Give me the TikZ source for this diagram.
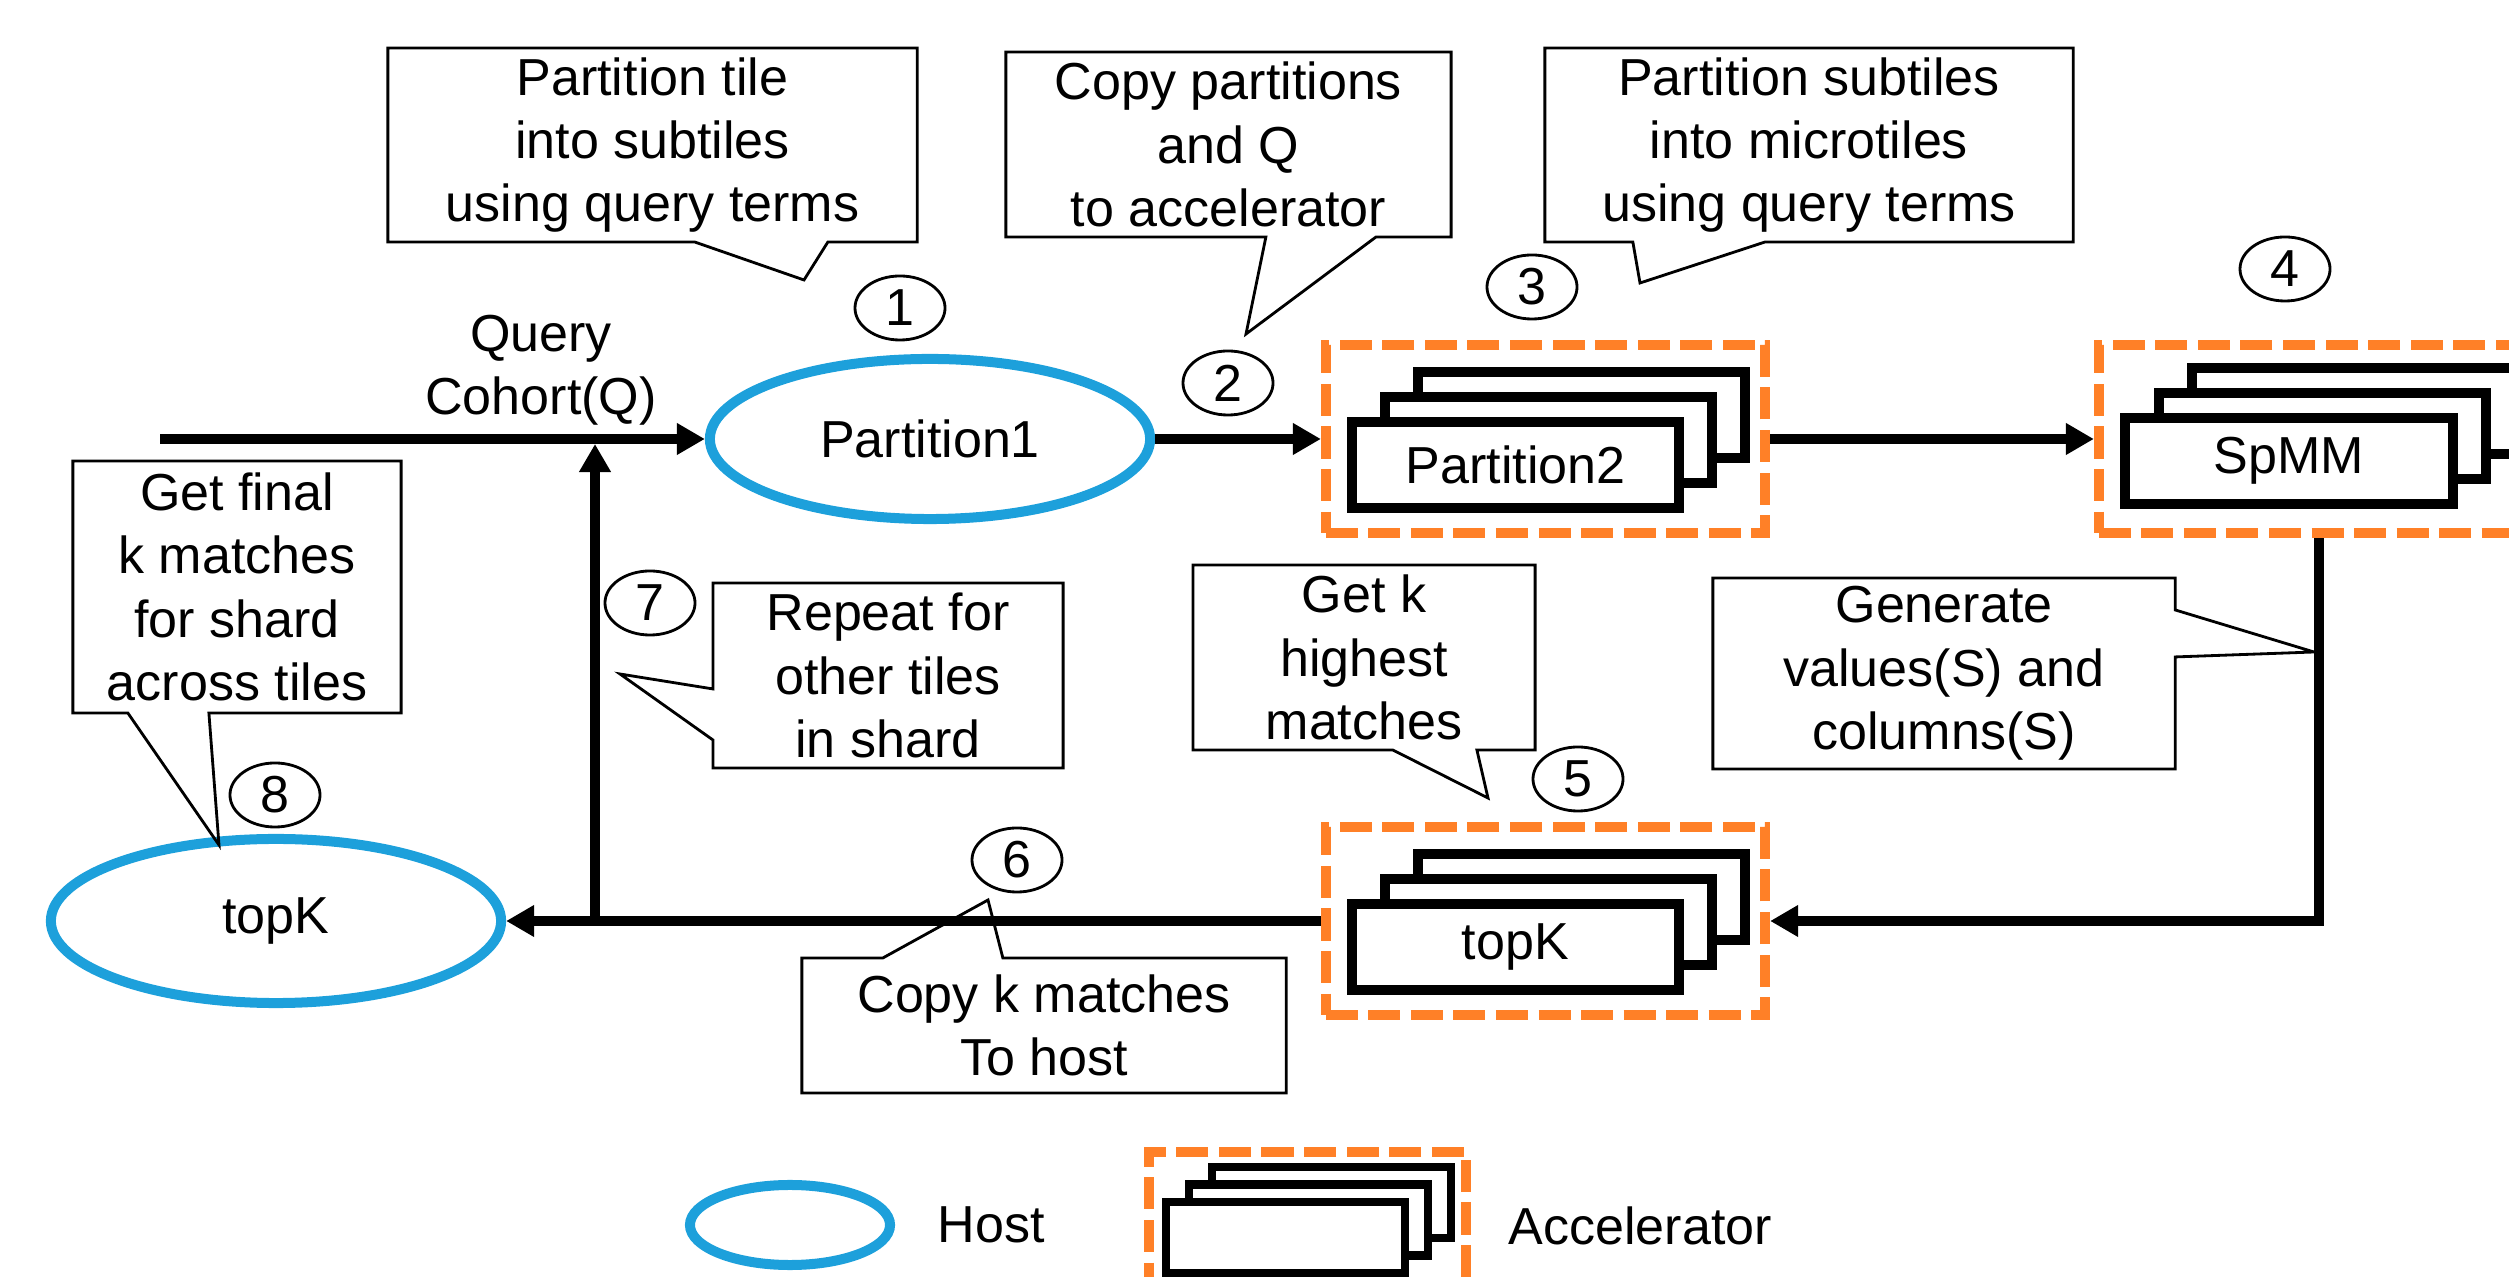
\documentclass[tikz,border=0pt]{standalone}
\usepackage{fontspec}
\setmainfont{Liberation Sans}
\usetikzlibrary{arrows.meta, shapes.geometric, positioning, calc}
\definecolor{hostColor}{RGB}{29, 160, 219}
\definecolor{accelColor}{RGB}{255, 128, 39}

\begin{document}
\begin{tikzpicture}[
    x=0.01cm, y=-0.01cm,
    font=\fontsize{14.8}{18}\selectfont,
    flow/.style={line width=1mm, -{Triangle[length=0.28cm, width=0.3cm]}},
    host node/.style={ellipse, draw=hostColor, line width=1mm, inner sep=0pt},
    accel box/.style={draw=accelColor, line width=1mm,
        dash pattern=on 0.32cm off 0.105cm, inner sep=0pt},
    stack line/.style={draw=black, fill=white, line width=1mm},
    stack front/.style={stack line, minimum width=3.27cm,
        minimum height=0.86cm, inner sep=0pt},
    step num/.style={ellipse, draw, line width=0.8pt, minimum width=0.9cm,
        minimum height=0.64cm, inner sep=0pt},
    note/.style={align=center, inner sep=0pt, outer sep=0pt},
    note line/.style={draw, line width=0.8pt, line join=miter},
]
\useasboundingbox (0,0) rectangle (2509,1277);
\clip (0,0) rectangle (2509,1277);

% ---- host nodes ----
\node[host node, minimum width=4.4cm, minimum height=1.6cm]
    (part1) at (930,439) {Partition1};
\node[host node, minimum width=4.5cm, minimum height=1.64cm]
    (topkHost) at (276,921) {topK};

% ---- accelerator groups ----
\node[accel box, minimum width=4.39cm, minimum height=1.88cm]
    (accPart) at (1545.5,439) {};
\node[accel box, minimum width=4.39cm, minimum height=1.88cm]
    (accSpmm) at (2318.5,439) {};
\node[accel box, minimum width=4.39cm, minimum height=1.88cm]
    (accTopk) at (1545.5,921) {};

% stacked tiles behind the front box
\foreach \cx/\cy in {1515.5/465, 2289/461, 1515.5/947} {
    \foreach \k in {2,1}
        \draw[stack line] (\cx-163.5+\k*33, \cy-43-\k*25) rectangle ++(327,86);
}
\node[stack front] (part2) at (1515.5,465) {Partition2};
\node[stack front] (spmm) at (2289,461) {SpMM};
\node[stack front] (topkAcc) at (1515.5,947) {topK};

% ---- data flow ----
\coordinate (qIn) at (160,439);
\coordinate (loopUp) at (595,921);
\draw[flow] (qIn) -- (part1.west);
\draw[flow] (part1.east) -- (accPart.west);
\draw[flow] (accPart.east) -- (accSpmm.west);
\draw[flow] (accSpmm.south) |- (accTopk.east);
\draw[flow] (accTopk.west) -- (topkHost.east);
\draw[flow, shorten >=0.05cm] (loopUp) -- (loopUp |- qIn);

\node[align=center] (query) at (541,370) {Query\\Cohort(Q)};

% ---- step numbers ----
\foreach \n/\x/\y in {1/900/308, 2/1228/383, 3/1532/287, 4/2285/269,
        5/1578/779, 6/1017/860, 7/650/603, 8/275/795}
    \node[step num] (step\n) at (\x,\y) {\n};

% ---- callouts ----
\node[note, minimum width=5.29cm, minimum height=1.94cm] (noteTile)
    at (652.5,145) {Partition tile\\into subtiles\\using query terms};
\coordinate (tipTile) at (804,280);
\draw[note line] (noteTile.north west) -- (noteTile.north east)
    -- (noteTile.south east) -- ($(noteTile.south west)+(440,0)$)
    -- (tipTile) -- ($(noteTile.south west)+(307,0)$)
    -- (noteTile.south west) -- cycle;

\node[note, minimum width=4.45cm, minimum height=1.85cm] (noteCopy)
    at (1228.5,144.5) {Copy partitions\\and Q\\to accelerator};
\coordinate (tipCopy) at (1246,334);
\draw[note line] (noteCopy.north west) -- (noteCopy.north east)
    -- (noteCopy.south east) -- ($(noteCopy.south west)+(370,0)$)
    -- (tipCopy) -- ($(noteCopy.south west)+(260,0)$)
    -- (noteCopy.south west) -- cycle;

\node[note, minimum width=5.28cm, minimum height=1.94cm] (noteMicro)
    at (1809,145) {Partition subtiles\\into microtiles\\using query terms};
\coordinate (tipMicro) at (1640,283);
\draw[note line] (noteMicro.north west) -- (noteMicro.north east)
    -- (noteMicro.south east) -- ($(noteMicro.south west)+(220,0)$)
    -- (tipMicro) -- ($(noteMicro.south west)+(88,0)$)
    -- (noteMicro.south west) -- cycle;

\node[note, minimum width=3.42cm, minimum height=1.85cm] (noteHigh)
    at (1364,657.5) {Get k\\highest\\matches};
\coordinate (tipHigh) at (1488,798);
\draw[note line] (noteHigh.north west) -- (noteHigh.north east)
    -- (noteHigh.south east) -- ($(noteHigh.south west)+(284,0)$)
    -- (tipHigh) -- ($(noteHigh.south west)+(200,0)$)
    -- (noteHigh.south west) -- cycle;

\node[note, minimum width=4.62cm, minimum height=1.91cm] (noteGen)
    at (1944,673.5) {Generate\\values(S) and\\columns(S)};
\coordinate (tipGen) at (2314,652);
\draw[note line] (noteGen.north west) -- (noteGen.north east)
    -- ($(noteGen.north east)+(0,32)$) -- (tipGen)
    -- ($(noteGen.north east)+(0,79)$) -- (noteGen.south east)
    -- (noteGen.south west) -- cycle;

\node[note, minimum width=4.84cm, minimum height=1.35cm] (noteHost)
    at (1044,1025.5) {Copy k matches\\To host};
\coordinate (tipHost) at (988,900);
\draw[note line] (noteHost.north west) -- ($(noteHost.north west)+(81,0)$)
    -- (tipHost) -- ($(noteHost.north west)+(201,0)$)
    -- (noteHost.north east) -- (noteHost.south east)
    -- (noteHost.south west) -- cycle;

\node[note, minimum width=3.5cm, minimum height=1.85cm] (noteRepeat)
    at (888,675.5) {Repeat for\\other tiles\\in shard};
\coordinate (tipRepeat) at (620,674);
\draw[note line] (noteRepeat.north west) -- (noteRepeat.north east)
    -- (noteRepeat.south east) -- (noteRepeat.south west)
    -- ($(noteRepeat.north west)+(0,157)$) -- (tipRepeat)
    -- ($(noteRepeat.north west)+(0,106)$) -- cycle;

\node[note, minimum width=3.28cm, minimum height=2.52cm] (noteFinal)
    at (237,587) {Get final\\k matches\\for shard\\across tiles};
\coordinate (tipFinal) at (219,845);
\draw[note line] (noteFinal.north west) -- (noteFinal.north east)
    -- (noteFinal.south east) -- ($(noteFinal.south west)+(136,0)$)
    -- (tipFinal) -- ($(noteFinal.south west)+(55,0)$)
    -- (noteFinal.south west) -- cycle;

% ---- legend ----
\node[host node, minimum width=2.0cm, minimum height=0.8cm]
    (legHost) at (790,1225) {};
\node[right=0.3cm of legHost] (legHostText) {Host};

\node[accel box, minimum width=3.17cm, minimum height=1.48cm]
    (legAccel) at (1307.5,1226) {};
\foreach \k in {2,1}
    \draw[stack line, line width=0.8mm] (1166+\k*23, 1202-\k*17.5) rectangle ++(239,71);
\node[stack line, line width=0.8mm, minimum width=2.39cm, minimum height=0.71cm]
    (legStack) at (1285.5,1237.5) {};
\node[right=0.25cm of legAccel] (legAccelText) {Accelerator};

\end{tikzpicture}
\end{document}
